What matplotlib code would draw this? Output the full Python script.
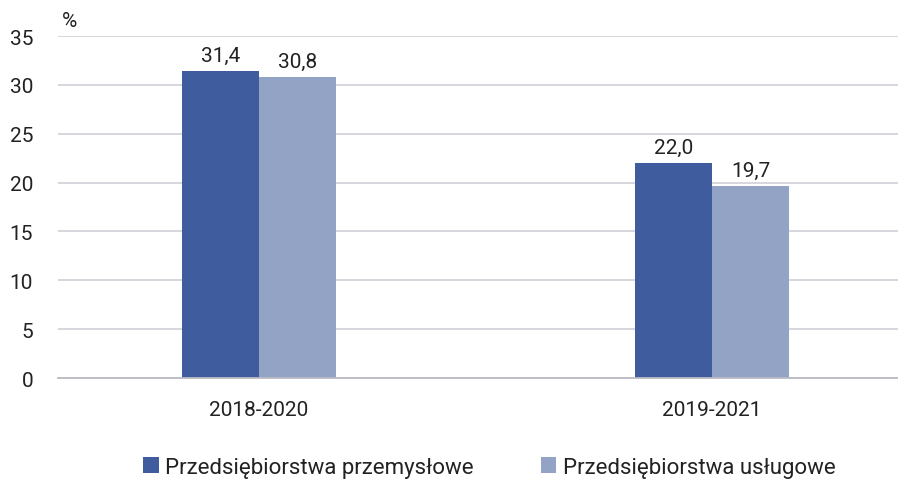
import matplotlib
matplotlib.use('Agg')
from matplotlib import pyplot as plt
import numpy as np

categories = ['2018-2020', '2019-2021']
series_names = ['Przedsiębiorstwa przemysłowe', 'Przedsiębiorstwa usługowe']
przemyslowe = [31.4, 22.0]
uslugowe = [30.8, 19.7]
labels_przem = ['31,4', '22,0']
labels_uslug = ['30,8', '19,7']
yticks = [0, 5, 10, 15, 20, 25, 30, 35]

dark = '#3F5C9E'
light = '#93A3C6'
txt = '#222222'

plt.rcParams['font.family'] = ['Roboto', 'DejaVu Sans']

fig = plt.figure(figsize=(8.98, 4.81), dpi=100)
ax = fig.add_axes([0.0646, 0.212, 0.935, 0.711])

x = np.arange(len(categories))
w = 0.17
b1 = ax.bar(x - w / 2, przemyslowe, w, color=dark, label=series_names[0], zorder=3)
b2 = ax.bar(x + w / 2, uslugowe, w, color=light, label=series_names[1], zorder=3)

for bars, labs in ((b1, labels_przem), (b2, labels_uslug)):
    for r, l in zip(bars, labs):
        ax.text(r.get_x() + r.get_width() / 2, r.get_height() + 0.6, l,
                ha='center', va='bottom', fontsize=15, color=txt)

ax.set_ylim(0, 35)
ax.set_xlim(-0.444, 1.41)
ax.set_yticks(yticks)
ax.set_yticklabels([str(t) for t in yticks], fontsize=15, color=txt)
ax.set_xticks(x)
ax.set_xticklabels(categories, fontsize=15, color=txt)
ax.tick_params(axis='both', length=0)
ax.tick_params(axis='y', pad=18)
ax.tick_params(axis='x', pad=16)
ax.yaxis.grid(True, color='#CBCBD3', linewidth=1.1, zorder=0)
for s in ['top', 'right', 'left']:
    ax.spines[s].set_visible(False)
ax.spines['bottom'].set_color('#BBBBC4')
ax.spines['bottom'].set_linewidth(1.3)
ax.spines['bottom'].set_zorder(4)

fig.text(0.069, 0.955, '%', fontsize=15, color=txt, va='center')

fig.legend(handles=[b1, b2], loc='center', bbox_to_anchor=(0.545, 0.027),
           ncol=2, frameon=False, fontsize=16, handlelength=0.7, handleheight=0.7,
           handletextpad=0.3, columnspacing=3.0, labelcolor=txt)

fig.savefig('out.png', dpi=100)
